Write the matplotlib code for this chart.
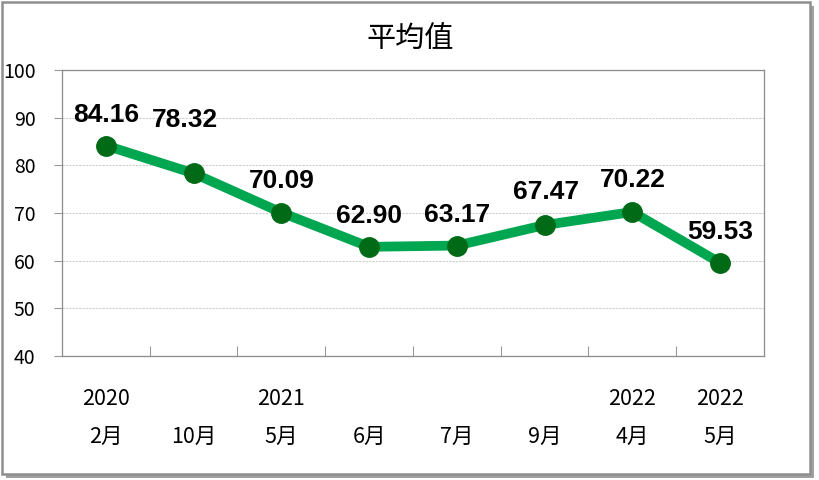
import matplotlib
matplotlib.use("Agg")
import matplotlib.pyplot as plt
from matplotlib.patches import Rectangle

plt.rcParams['font.family'] = ['Noto Sans CJK TC', 'DejaVu Sans']

# data
years = ["2020", "", "2021", "", "", "", "2022", "2022"]
months = ["2月", "10月", "5月", "6月", "7月", "9月", "4月", "5月"]
values = [84.16, 78.32, 70.09, 62.90, 63.17, 67.47, 70.22, 59.53]
yticks = [40, 50, 60, 70, 80, 90, 100]

# label offsets in pixels (dx, dy) from each point
label_off = [(0, 31), (-9, 53), (0, 32), (0, 31), (0, 31), (1, 33), (0, 32), (0, 31)]

fig = plt.figure(figsize=(8.2, 4.8), dpi=100)

# frame with shadow
fig.patches.append(Rectangle((6 / 820, 2 / 480), 808 / 820, 472 / 480, transform=fig.transFigure,
                             facecolor="#a0a0a0", edgecolor="none", zorder=0))
fig.patches.append(Rectangle((2 / 820, 6 / 480), 808 / 820, 472 / 480, transform=fig.transFigure,
                             facecolor="white", edgecolor="#8f8f8f", linewidth=1.8, zorder=1))

ax = fig.add_axes([62 / 820, 124 / 480, 702 / 820, 286 / 480])
ax.set_zorder(2)
ax.patch.set_alpha(0)

x = list(range(len(values)))
ax.plot(x, values, color="#00a650", linewidth=7, solid_capstyle="round", zorder=3)
ax.plot(x, values, "o", color="#006a17", markersize=14, zorder=4)

for i, v in enumerate(values):
    dx, dy = label_off[i]
    ax.annotate(f"{v:.2f}", (i, v), xytext=(dx * 0.72, dy * 0.72), textcoords="offset points",
                ha="center", va="center", fontsize=19, fontweight="bold",
                family=["Liberation Sans", "DejaVu Sans"], color="black", zorder=5)

ax.set_xlim(-0.5, len(values) - 0.5)
ax.set_ylim(40, 100)
ax.set_yticks(yticks)
ax.set_yticklabels([str(t) for t in yticks], fontsize=14)
ax.yaxis.grid(True, color="#cfcfcf", linestyle=(0, (2, 1)), linewidth=0.8)
ax.set_axisbelow(True)

ax.set_xticks(x)
ax.set_xticklabels([f"{yr if yr else ' '}\n{m}" for yr, m in zip(years, months)],
                   fontsize=15.5, linespacing=1.95)
ax.set_xticks([i + 0.5 for i in x[:-1]], minor=True)
ax.tick_params(axis="x", which="major", length=0, pad=23)
ax.tick_params(axis="x", which="minor", length=7, direction="in", color="#999999", width=0.8)
ax.tick_params(axis="y", length=6, color="#999999", width=0.8, pad=13)

for s in ax.spines.values():
    s.set_color("#8c8c8c")
    s.set_linewidth(0.9)

fig.text(410 / 820, 1 - 39 / 480, "平均值", ha="center", va="center", fontsize=21)

fig.savefig("out.png", dpi=100)
